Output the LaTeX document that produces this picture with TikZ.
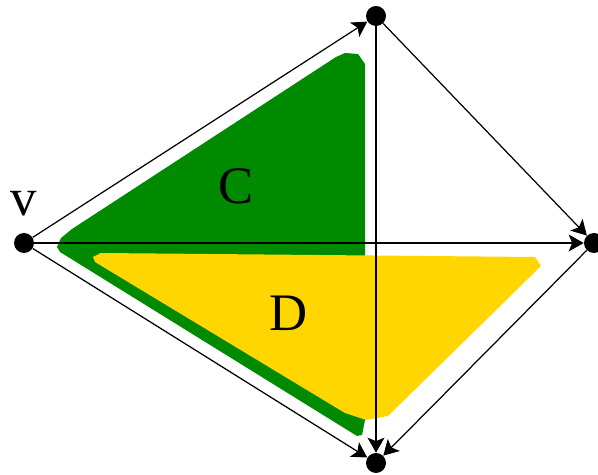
\documentclass[tikz,border=0pt]{standalone}
\usepackage{fontspec}
\setmainfont{Liberation Serif}
\usetikzlibrary{arrows.meta}
\definecolor{regC}{RGB}{0,138,0}
\definecolor{regD}{RGB}{255,214,0}

\begin{document}
\begin{tikzpicture}[
  x=0.02cm, y=-0.02cm,
  vert/.style={circle, fill=black, inner sep=0pt, minimum size=0.4cm},
  arrow/.style={-{Stealth[length=0.3cm, width=0.34cm, inset=0.07cm]}, line width=0.7pt},
  lab/.style={font=\fontsize{30}{32}\selectfont}
]
\useasboundingbox (0,0) rectangle (598,475);
% shaded regions
\fill[regC] (57,247) -- (61,238) -- (72,229) -- (336,57) -- (345,53) -- (358,54)
  -- (365,64) -- (365,420) -- (362,435) -- (357,436) -- (60,252) -- cycle;
\fill[regD] (93,257) -- (101,253) -- (535,257) -- (541,266) -- (388,416)
  -- (366,420) -- (345,413) -- (95,262) -- cycle;
\node[lab] (cl) at (236,186) {C};
\node[lab] (dl) at (289,313) {D};

% vertices
\node[vert] (v) at (24,243) {};
\node[vert] (top) at (376,16) {};
\node[vert] (rgt) at (594,243) {};
\node[vert] (bot) at (376,463) {};
\node[lab, above=0.2cm] (vl) at (v.north) {v};

\draw[arrow] (v) -- (top);
\draw[arrow] (v) -- (rgt);
\draw[arrow] (v) -- (bot);
\draw[arrow] (top) -- (rgt);
\draw[arrow] (top) -- (bot);
\draw[arrow] (rgt) -- (bot);
\end{tikzpicture}
\end{document}
